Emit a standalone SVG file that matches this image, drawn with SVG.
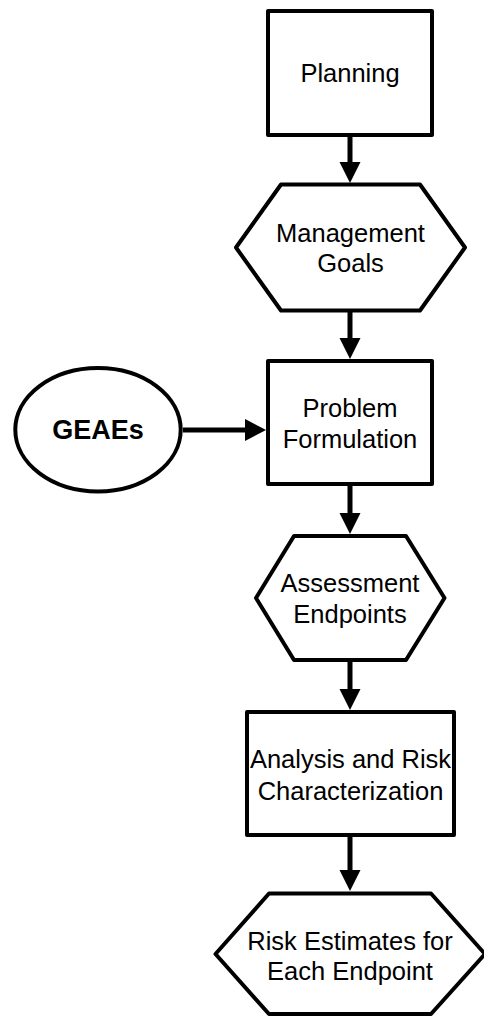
<svg xmlns="http://www.w3.org/2000/svg" width="484" height="1018" viewBox="0 0 484 1018">
<style>
.box{fill:#fff;stroke:#000;stroke-width:4;stroke-linejoin:round}
.t{font-family:"Liberation Sans",Arial,sans-serif;font-size:25.5px;fill:#000;text-anchor:middle}
.b{font-weight:bold;font-size:27px}
.ln{stroke:#000;stroke-width:5;fill:none}
.ah{fill:#000}
</style>
<rect width="484" height="1018" fill="#fff"/>
<g id="connectors">
<line class="ln" x1="350" y1="135" x2="350" y2="164"/>
<polygon class="ah" points="339.5,162 360.5,162 350,183"/>
<line class="ln" x1="350" y1="311" x2="350" y2="340"/>
<polygon class="ah" points="339.5,338 360.5,338 350,359"/>
<line class="ln" x1="183" y1="430" x2="247" y2="430"/>
<polygon class="ah" points="245,419 245,441 266,430"/>
<line class="ln" x1="350" y1="484" x2="350" y2="515"/>
<polygon class="ah" points="339.5,513 360.5,513 350,534"/>
<line class="ln" x1="350" y1="660" x2="350" y2="691"/>
<polygon class="ah" points="339.5,689 360.5,689 350,710"/>
<line class="ln" x1="350" y1="835" x2="350" y2="872"/>
<polygon class="ah" points="339.5,870 360.5,870 350,891"/>
</g>
<g id="planning">
<rect class="box" x="268" y="11" width="164" height="124"/>
<text class="t" x="350" y="82">Planning</text>
</g>
<g id="management-goals">
<polygon class="box" points="281,184.5 420,184.5 465,247.5 420,310.5 281,310.5 236,247.5"/>
<text class="t" x="350.5" y="241.7">Management</text>
<text class="t" x="350.5" y="271.7">Goals</text>
</g>
<g id="geaes">
<ellipse class="box" cx="98" cy="429.7" rx="82.7" ry="61.7"/>
<text class="t b" x="98" y="439">GEAEs</text>
</g>
<g id="problem-formulation">
<rect class="box" x="268" y="361" width="164" height="123"/>
<text class="t" x="350" y="416.7">Problem</text>
<text class="t" x="350" y="447.7">Formulation</text>
</g>
<g id="assessment-endpoints">
<polygon class="box" points="294,536 406,536 444.5,598 406,660 294,660 256,598"/>
<text class="t" x="350" y="591.7">Assessment</text>
<text class="t" x="350" y="623.3">Endpoints</text>
</g>
<g id="analysis">
<rect class="box" x="247" y="712" width="207" height="123"/>
<text class="t" x="350.5" y="768.3">Analysis and Risk</text>
<text class="t" x="350.5" y="800">Characterization</text>
</g>
<g id="risk-estimates">
<polygon class="box" points="269,893.5 431,893.5 485,954 431,1014 269,1014 215.5,954"/>
<text class="t" x="350" y="950">Risk Estimates for</text>
<text class="t" x="350" y="980">Each Endpoint</text>
</g>
</svg>
